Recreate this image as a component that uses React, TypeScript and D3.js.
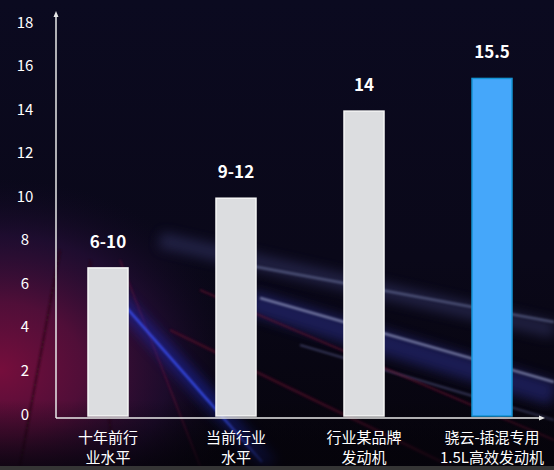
import * as d3 from "d3";

const categories = ["c1", "c2", "c3", "c4"];
const categoryLines = [
  ["十年前行", "业水平"],
  ["当前行业", "水平"],
  ["行业某品牌", "发动机"],
  ["骁云-插混专用", "1.5L高效发动机"],
];
const values = [6.8, 10, 14, 15.5];
const valueLabels = ["6-10", "9-12", "14", "15.5"];
const highlight = [false, false, false, true];
const yTicks = [0, 2, 4, 6, 8, 10, 12, 14, 16, 18];

const W = 554;
const H = 470;
const FONT = '"Noto Sans CJK SC", "Noto Sans", sans-serif';

export default function App() {
  const x = d3
    .scaleBand<string>()
    .domain(categories)
    .range([44, 556])
    .paddingInner(0.6875)
    .paddingOuter(0.34375);
  const y = d3.scaleLinear().domain([0, 18]).range([416, 24]);

  const axisX = 56;
  const axisY = 418;

  return (
    <svg
      width={W}
      height={H}
      style={{ position: "absolute", left: 0, top: 0, display: "block" }}
      fontFamily={FONT}
    >
      <defs>
        <linearGradient id="bg" x1="0" y1="0" x2="0" y2="1">
          <stop offset="0%" stopColor="#0b0a20" />
          <stop offset="55%" stopColor="#0a0819" />
          <stop offset="100%" stopColor="#06040c" />
        </linearGradient>
        <radialGradient
          id="red"
          gradientUnits="userSpaceOnUse"
          cx={0}
          cy={370}
          r={240}
          gradientTransform="translate(0,370) scale(1,0.8) translate(0,-370)"
        >
          <stop offset="0%" stopColor="#760e3c" stopOpacity="1" />
          <stop offset="35%" stopColor="#580f3c" stopOpacity="0.9" />
          <stop offset="70%" stopColor="#2e1040" stopOpacity="0.55" />
          <stop offset="100%" stopColor="#140a26" stopOpacity="0" />
        </radialGradient>
        <linearGradient id="floor" x1="0" y1="0" x2="0" y2="1">
          <stop offset="0%" stopColor="#05030a" stopOpacity="0" />
          <stop offset="100%" stopColor="#05030a" stopOpacity="0.75" />
        </linearGradient>
        <filter id="blur6" x="-20%" y="-50%" width="140%" height="200%">
          <feGaussianBlur stdDeviation="6" />
        </filter>
        <filter id="blur1" x="-20%" y="-50%" width="140%" height="200%">
          <feGaussianBlur stdDeviation="1" />
        </filter>
      </defs>

      {/* background */}
      <rect width={W} height={H} fill="url(#bg)" />
      <rect width={W} height={H} fill="url(#red)" />

      {/* light streaks */}
      <g>
        <path d="M60,250 L20,466" stroke="#2a0818" strokeWidth={2} opacity={0.8} filter="url(#blur1)" />
        <path d="M90,260 L115,466" stroke="#2a0818" strokeWidth={2} opacity={0.7} filter="url(#blur1)" />
        <path d="M120,260 L200,466" stroke="#7a1238" strokeWidth={1.5} opacity={0.5} filter="url(#blur1)" />
        <path d="M160,240 L554,330" stroke="#3c3f78" strokeWidth={16} opacity={0.45} filter="url(#blur6)" />
        <path d="M230,262 L554,322" stroke="#7a84b0" strokeWidth={2.5} opacity={0.5} filter="url(#blur1)" />
        <path d="M250,302 L554,394" stroke="#2b2f8a" strokeWidth={24} opacity={0.55} filter="url(#blur6)" />
        <path d="M260,298 L554,382" stroke="#9aa0c8" strokeWidth={2.5} opacity={0.7} filter="url(#blur1)" />
        <path d="M300,345 L554,420" stroke="#6a6ea8" strokeWidth={2} opacity={0.45} filter="url(#blur1)" />
        <path d="M200,290 L554,440" stroke="#6a1030" strokeWidth={2} opacity={0.6} filter="url(#blur1)" />
        <path d="M170,330 L450,466" stroke="#5a0c2a" strokeWidth={3} opacity={0.6} filter="url(#blur1)" />
        <path d="M110,290 L270,466" stroke="#1e2ab8" strokeWidth={16} opacity={0.5} filter="url(#blur6)" />
        <path d="M118,298 L262,462" stroke="#3a54ff" strokeWidth={2.5} opacity={0.8} filter="url(#blur1)" />
      </g>
      <rect x={0} y={400} width={W} height={66} fill="url(#floor)" />
      <rect x={0} y={466} width={W} height={4} fill="#353535" />

      {/* y tick labels */}
      {yTicks.map((t) => (
        <text
          key={t}
          x={25}
          y={y(t) - 3}
          textAnchor="middle"
          dominantBaseline="central"
          fill="#ffffff"
          fontSize={15}
        >
          {t}
        </text>
      ))}

      {/* bars */}
      {categories.map((c, i) => (
        <rect
          key={c}
          x={x(c)!}
          y={y(values[i])}
          width={x.bandwidth()}
          height={y(0) - y(values[i])}
          fill={highlight[i] ? "#45a7fa" : "#dcdde0"}
          stroke={highlight[i] ? "#1594d4" : "#f6f6f6"}
          strokeWidth={1.5}
        />
      ))}

      {/* value labels */}
      {categories.map((c, i) => (
        <text
          key={c}
          x={x(c)! + x.bandwidth() / 2}
          y={y(values[i]) - 20}
          textAnchor="middle"
          fill="#ffffff"
          fontSize={17}
          fontWeight="bold"
        >
          {valueLabels[i]}
        </text>
      ))}

      {/* axes */}
      <line x1={axisX} y1={axisY} x2={axisX} y2={15} stroke="#e8e8e8" strokeWidth={1.5} />
      <path d={`M${axisX - 2.5},${17} L${axisX},${11} L${axisX + 2.5},${17} Z`} fill="#e8e8e8" />
      <line x1={axisX} y1={axisY} x2={541} y2={axisY} stroke="#e8e8e8" strokeWidth={1.5} />
      <path d={`M${539},${axisY - 2.5} L${545},${axisY} L${539},${axisY + 2.5} Z`} fill="#e8e8e8" />

      {/* category labels */}
      {categories.map((c, i) => (
        <text
          key={c}
          x={x(c)! + x.bandwidth() / 2}
          textAnchor="middle"
          fill="#ffffff"
          fontSize={15}
        >
          {categoryLines[i].map((line, j) => (
            <tspan key={j} x={x(c)! + x.bandwidth() / 2} y={443 + j * 20}>
              {line}
            </tspan>
          ))}
        </text>
      ))}
    </svg>
  );
}
